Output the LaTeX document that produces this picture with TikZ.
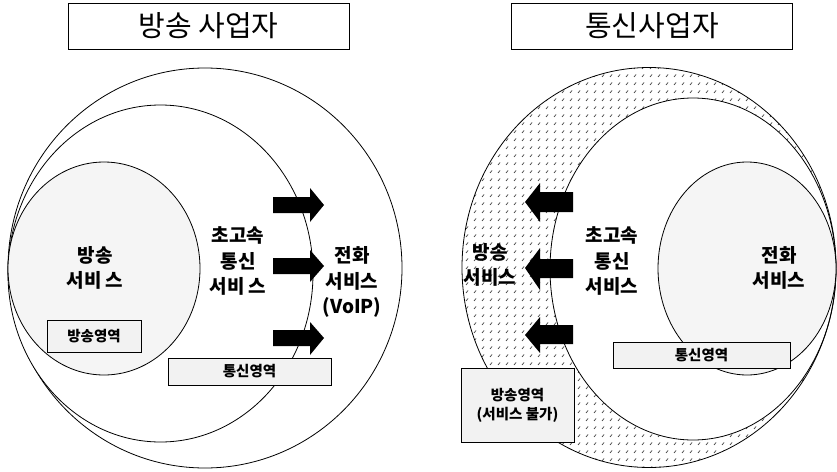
\documentclass[tikz,border=0pt]{standalone}
\usepackage{fontspec}
\newfontfamily\kr{Noto Sans CJK KR}
\usetikzlibrary{patterns}
\pgfdeclarepatternformonly{sdash}{\pgfpoint{-1pt}{-1pt}}{\pgfpoint{9pt}{9pt}}{\pgfpoint{8pt}{8pt}}{
  \pgfsetlinewidth{0.7pt}
  \pgfpathmoveto{\pgfpoint{2pt}{2pt}}
  \pgfpathlineto{\pgfpoint{4pt}{4.5pt}}
  \pgfusepath{stroke}}
\tikzset{
  titlebox/.style={draw, line width=0.6pt, minimum width=281pt, minimum height=46pt, inner sep=0pt, font=\kr\fontsize{29}{32}\selectfont},
  ring/.style={line width=0.8pt},
  lbl/.style={align=center, font=\kr\bfseries\fontsize{19}{25.5}\selectfont, inner sep=0pt},
  areabox/.style={draw, line width=0.7pt, fill=black!5, inner sep=0pt, align=center, font=\kr\bfseries\fontsize{14.5}{19}\selectfont},
  blk/.style={fill=black}
}
\begin{document}
\begin{tikzpicture}[x=1pt,y=-1pt]
\useasboundingbox (0,0) rectangle (837,471);
\fill[white] (0,0) rectangle (837,471);

% ---------- left diagram ----------
\node[titlebox] (t1) at (208.5,26) {방송 사업자};
\draw[ring] (205,268) ellipse [x radius=197pt, y radius=200pt];
\draw[ring,fill=white] (160.5,273.5) ellipse [x radius=152.5pt, y radius=168.5pt];
\draw[ring,fill=black!4] (104,268.5) ellipse [x radius=96pt, y radius=106.5pt];

\fill[blk] (273,197)--(310,197)--(310,188)--(324,205)--(310,222)--(310,213)--(273,213)--cycle;
\fill[blk] (273,258)--(310,258)--(310,250)--(324,266)--(310,282)--(310,274)--(273,274)--cycle;
\fill[blk] (273,330)--(310,330)--(310,322)--(324,338)--(310,355)--(310,346)--(273,346)--cycle;

\node[lbl] (l1) at (95,268) {방송\\서비 스};
\node[lbl] (l2) at (238,261) {초고속\\통신\\서비 스};
\node[lbl] (l3) at (352,282) {전화\\서비스\\(VoIP)};

\node[areabox, minimum width=94pt, minimum height=32pt] (a1) at (94,336) {방송영역};
\node[areabox, minimum width=163pt, minimum height=27pt] (a2) at (249.5,371.5) {통신영역};

% ---------- right diagram ----------
\node[titlebox] (t2) at (652,26) {통신사업자};
\fill[pattern=sdash, pattern color=black!75, even odd rule]
  (649,267.5) ellipse [x radius=187pt, y radius=200pt]
  (693,269) ellipse [x radius=143pt, y radius=171pt];
\draw[ring] (649,267.5) ellipse [x radius=187pt, y radius=200pt];
\draw[ring] (693,269) ellipse [x radius=143pt, y radius=171pt];
\draw[ring,fill=black!4] (747,268.5) ellipse [x radius=89pt, y radius=106.5pt];

\fill[blk] (573,192)--(540,192)--(540,183)--(525,202)--(540,222)--(540,212)--(573,212)--cycle;
\fill[blk] (573,259)--(540,259)--(540,248)--(525,268)--(540,290)--(540,278)--(573,278)--cycle;
\fill[blk] (573,325)--(540,325)--(540,317)--(525,335)--(540,353)--(540,344)--(573,344)--cycle;

\node[lbl] (r1) at (490,265) {방송\\서비스};
\node[lbl] (r2) at (612,261) {초고속\\통신\\서비스};
\node[lbl] (r3) at (779,268) {전화\\서비스};

\node[areabox, minimum width=177pt, minimum height=26pt] (b1) at (701.5,355) {통신영역};
\node[areabox, minimum width=113pt, minimum height=74pt] (b2) at (517.5,405) {방송영역\\(서비스 불가)};
\end{tikzpicture}
\end{document}
